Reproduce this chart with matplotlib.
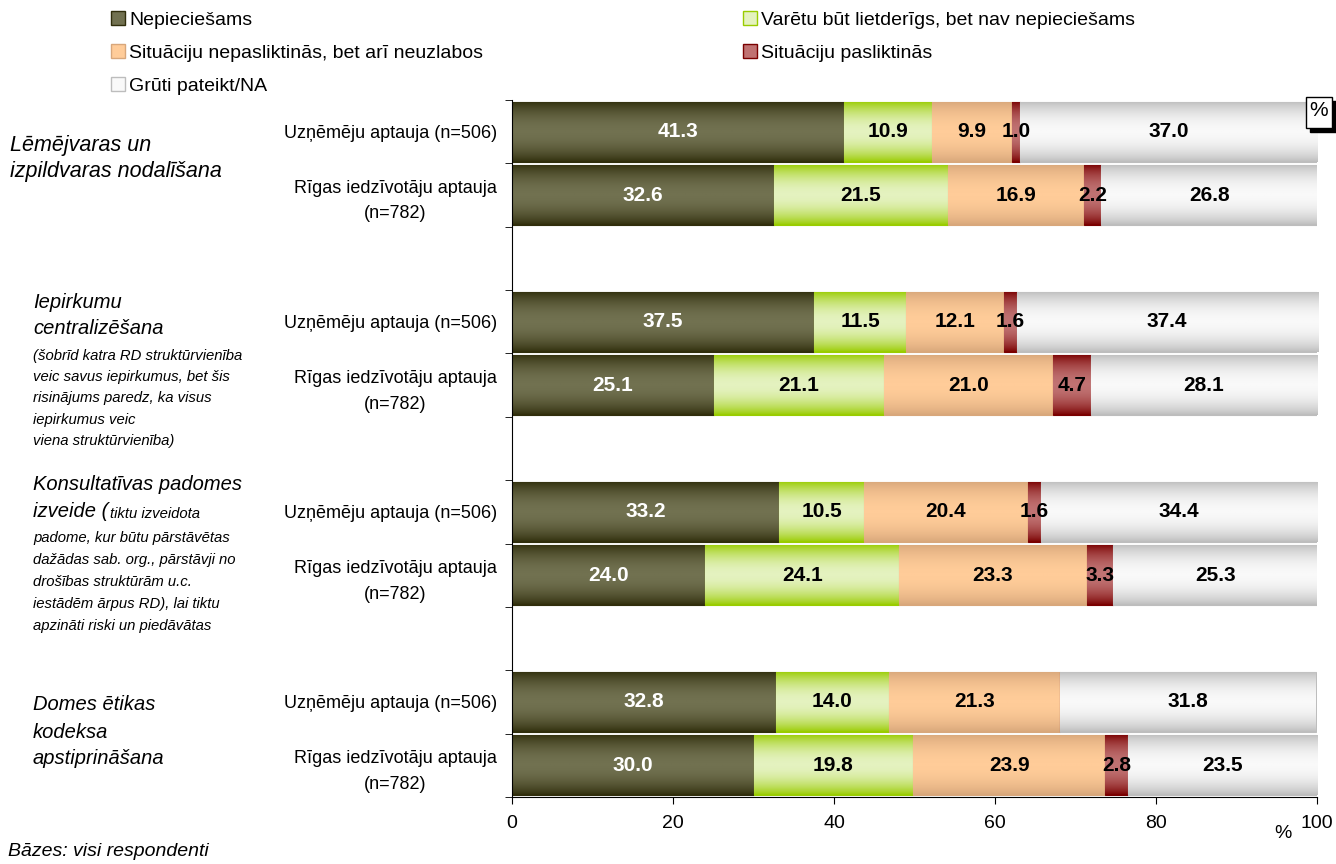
import numpy as np
import matplotlib
matplotlib.use("Agg")
import matplotlib.pyplot as plt
from matplotlib.colors import LinearSegmentedColormap
from matplotlib.patches import Patch, Rectangle

plt.rcParams['font.family'] = ['Liberation Sans', 'DejaVu Sans']

# dati
aptaujas = ["Uzņēmēju aptauja (n=506)", "Rīgas iedzīvotāju aptauja\n(n=782)"] * 4
rindas = [0, 1, 3, 4, 6, 7, 9, 10]
nepieciesams = [41.3, 32.6, 37.5, 25.1, 33.2, 24.0, 32.8, 30.0]
varetu_but = [10.9, 21.5, 11.5, 21.1, 10.5, 24.1, 14.0, 19.8]
nepasliktinas = [9.9, 16.9, 12.1, 21.0, 20.4, 23.3, 21.3, 23.9]
pasliktinas = [1.0, 2.2, 1.6, 4.7, 1.6, 3.3, 0.0, 2.8]
gruti = [37.0, 26.8, 37.4, 28.1, 34.4, 25.3, 31.8, 23.5]

serijas = [
    ("Nepieciešams", nepieciesams, "#302e0c", "#717150", "white"),
    ("Varētu būt lietderīgs, bet nav nepieciešams", varetu_but, "#99cc00", "#e4f2bf", "black"),
    ("Situāciju nepasliktinās, bet arī neuzlabos", nepasliktinas, "#d8a77b", "#ffcc99", "black"),
    ("Situāciju pasliktinās", pasliktinas, "#7a0000", "#c07272", "black"),
    ("Grūti pateikt/NA", gruti, "#bdbdbd", "#f9f9f9", "black"),
]

W, H = 1336, 864
fig = plt.figure(figsize=(W / 100, H / 100), dpi=100)
ax = fig.add_axes([512 / W, 1 - 797 / H, 805 / W, 697 / H])

def px(x, y):
    return x / W, 1 - y / H

t = np.linspace(0, 1, 64)
profils = np.sin(np.pi * t) ** 0.8

left = np.zeros(len(rindas))
handles = {}
for nosaukums, vert, mala, vidus, tcol in serijas:
    vert = np.array(vert)
    bars = ax.barh(rindas, vert, left=left, height=0.95, color=vidus,
                   edgecolor=mala, linewidth=0.8)
    cmap = LinearSegmentedColormap.from_list(nosaukums, [mala, vidus])
    for p in bars.patches:
        if p.get_width() <= 0:
            continue
        x0, y0 = p.get_x(), p.get_y()
        im = ax.imshow(profils[:, None], cmap=cmap, vmin=0, vmax=1, aspect='auto',
                       extent=(x0, x0 + p.get_width(), y0 + p.get_height(), y0),
                       zorder=p.get_zorder(), interpolation='bilinear')
        im.set_clip_path(p)
    labels = ["%.1f" % v if v > 0 else "" for v in vert]
    ax.bar_label(bars, labels=labels, label_type='center', color=tcol,
                 fontsize=15, fontweight='bold', zorder=5)
    handles[nosaukums] = Patch(facecolor=vidus, edgecolor=mala, linewidth=1.0)
    left += vert

ax.set_xlim(0, 100)
ax.set_ylim(10.5, -0.5)
ax.set_xticks([0, 20, 40, 60, 80, 100])
ax.tick_params(axis='x', direction='out', length=5, pad=8, labelsize=14)
ax.set_yticks(rindas)
ax.set_yticklabels(aptaujas, multialignment='center', fontsize=13, linespacing=1.65)
ax.tick_params(axis='y', which='major', length=0, pad=11)
ax.set_yticks(np.arange(-0.5, 11, 1), minor=True)
ax.tick_params(axis='y', which='minor', direction='out', length=5)
for s in ['top', 'right']:
    ax.spines[s].set_visible(False)

# legenda
kreisie = ["Nepieciešams", "Situāciju nepasliktinās, bet arī neuzlabos", "Grūti pateikt/NA"]
labie = ["Varētu būt lietderīgs, bet nav nepieciešams", "Situāciju pasliktinās"]
for nos, xy in [(kreisie, px(111, 11)), (labie, px(743, 11))]:
    fig.legend([handles[n] for n in nos], nos, loc='upper left', bbox_to_anchor=xy,
               frameon=False, fontsize=14, handlelength=0.7, handleheight=0.7,
               handletextpad=0.25, labelspacing=0.8, borderpad=0, borderaxespad=0)

# tematu nosaukumi kreisajā pusē
lielie = [
    (10, 15.5, [("Lēmējvaras un", 145), ("izpildvaras nodalīšana", 172)]),
    (33, 14.5, [("Iepirkumu", 302), ("centralizēšana", 329)]),
    (33, 14.5, [("Konsultatīvas padomes", 484)]),
    (33, 14.5, [("Domes ētikas", 705), ("kodeksa", 732), ("apstiprināšana", 759)]),
]
for x, fs, rinas in lielie:
    for teksts, y in rinas:
        fig.text(*px(x, y), teksts, fontsize=fs, style='italic', va='center')

mazie = [
    ("(šobrīd katra RD struktūrvienība", 356),
    ("veic savus iepirkumus, bet šis", 377),
    ("risinājums paredz, ka visus", 398),
    ("iepirkumus veic", 420),
    ("viena struktūrvienība)", 441),
    ("padome, kur būtu pārstāvētas", 538),
    ("dažādas sab. org., pārstāvji no", 560),
    ("drošības struktūrām u.c.", 582),
    ("iestādēm ārpus RD), lai tiktu", 604),
    ("apzināti riski un piedāvātas", 626),
]
for teksts, y in mazie:
    fig.text(*px(33, y), teksts, fontsize=10.7, style='italic', va='center')

t1 = fig.text(*px(33, 517), "izveide (", fontsize=14.5, style='italic', va='baseline')
ax.annotate("tiktu izveidota", xy=(1, 0), xycoords=t1, xytext=(1, 0),
            textcoords='offset points', fontsize=10.7, style='italic',
            va='bottom', annotation_clip=False)

fig.text(*px(8, 852), "Bāzes: visi respondenti", fontsize=14, style='italic', va='center')
fig.text(*px(1283, 834), "%", fontsize=14, va='center', ha='center')

# % rāmītis ar ēnu
fig.add_artist(Rectangle(px(1310, 132), 26 / W, 31 / H, transform=fig.transFigure,
                         facecolor='black', edgecolor='black'))
fig.add_artist(Rectangle(px(1306, 128), 26 / W, 31 / H, transform=fig.transFigure,
                         facecolor='white', edgecolor='black', linewidth=1))
fig.text(*px(1319, 111), "%", fontsize=15, va='center', ha='center')

fig.savefig("out.png", dpi=100)
